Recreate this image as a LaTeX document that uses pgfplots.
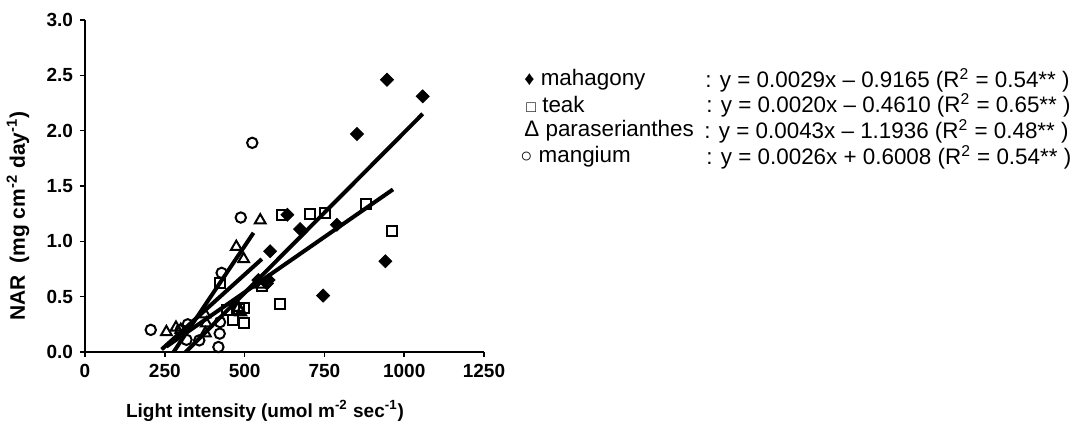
\documentclass[border=0pt]{standalone}
\usepackage{pgfplots}
\pgfplotsset{compat=1.18}
\usepackage{pgfplotstable}
\usepackage{fontspec}
\setmainfont{Liberation Sans}
\pgfplotstableread{
x y
946 2.46
1058 2.31
852 1.97
634 1.24
674 1.11
580 0.91
789 1.15
941 0.82
746 0.51
543 0.65
575 0.65
570 0.62
}\mahagony
\pgfplotstableread{
x y
963 1.09
880 1.335
753 1.26
706 1.25
617 1.24
612 0.43
556 0.60
423 0.62
497 0.40
497 0.26
464 0.29
444 0.38
482 0.39
}\teak
\pgfplotstableread{
x y
549 1.19
474 0.95
497 0.84
481 0.40
488 0.36
380 0.26
377 0.17
255 0.18
285 0.22
549 0.61
300 0.20
376 0.34
}\para
\pgfplotstableread{
x y
524 1.89
488 1.215
428 0.715
206 0.20
418 0.045
422 0.166
423 0.27
358 0.105
318 0.11
322 0.25
300 0.20
}\mangium
\begin{document}
\begin{tikzpicture}
\begin{axis}[
  at={(0,0)}, anchor=south west,
  scale only axis, width=199.5pt, height=166pt,
  xmin=0, xmax=1250, ymin=0, ymax=3,
  axis lines=left, axis line style={-, line width=0.75pt},
  tick align=outside, major tick length=2.5pt,
  tick style={black, line width=0.75pt},
  xtick={0,250,500,750,1000,1250},
  ytick={0,0.5,1,1.5,2,2.5,3},
  /pgf/number format/assume math mode=true,
  /pgf/number format/1000 sep={},
  tick label style={font=\bfseries\fontsize{9.5}{11}\selectfont},
  y tick label style={/pgf/number format/.cd, fixed, fixed zerofill, precision=1, /tikz/.cd},
  clip marker paths=false,
]
\addplot[only marks, mark=square*, mark size=2.3pt, mark options={rotate=45, fill=black, draw=black}] table {\mahagony};
\addplot[only marks, mark=square, mark size=2.5pt, mark options={line width=1pt, draw=black, fill=white}] table {\teak};
\addplot[only marks, mark=triangle, mark size=3.1pt, mark options={line width=1pt, draw=black, fill=none}] table {\para};
\addplot[only marks, mark=o, mark size=2.6pt, mark options={line width=1pt, draw=black}] table {\mangium};
\addplot[black, line width=2pt] coordinates {(310,-0.017) (1058,2.152)};
\addplot[black, line width=2pt] coordinates {(255,0.049) (965,1.469)};
\addplot[black, line width=2pt] coordinates {(275,-0.011) (528,1.077)};
\addplot[black, line width=2pt] coordinates {(240,0.023) (554,0.840)};
\end{axis}
\begin{scope}[x=0.5pt, y=-0.5pt, shift={(-42.5pt,176pt)}]
\path[use as bounding box] (0,0) rectangle (1074,421);
\node[rotate=90, font=\bfseries\fontsize{10.5}{12}\selectfont] at (18,216) {NAR\ \ (mg cm\textsuperscript{-2} day\textsuperscript{-1})};
\node[font=\bfseries\fontsize{9.5}{11}\selectfont] at (265,411) {Light intensity (umol m\textsuperscript{-2} sec\textsuperscript{-1})};
\begin{scope}[every node/.style={anchor=west, inner sep=0pt, font=\fontsize{11.2}{13}\selectfont}]
\node at (524,80) {{\fontsize{10}{10}\selectfont ♦} mahagony};
\node at (526,105) {{\fontsize{8}{8}\selectfont □} teak};
\node at (524,131) {Δ paraserianthes};
\node at (520,157) {{\fontsize{10}{10}\selectfont ○} mangium};
\node at (705,80) {: y = 0.0029x -- 0.9165 (R\textsuperscript{2} = 0.54** )};
\node at (706,105) {: y = 0.0020x -- 0.4610 (R\textsuperscript{2} = 0.65** )};
\node at (704,131) {: y = 0.0043x -- 1.1936 (R\textsuperscript{2} = 0.48** )};
\node at (706,157) {: y = 0.0026x + 0.6008 (R\textsuperscript{2} = 0.54** )};
\end{scope}
\end{scope}
\end{tikzpicture}
\end{document}
